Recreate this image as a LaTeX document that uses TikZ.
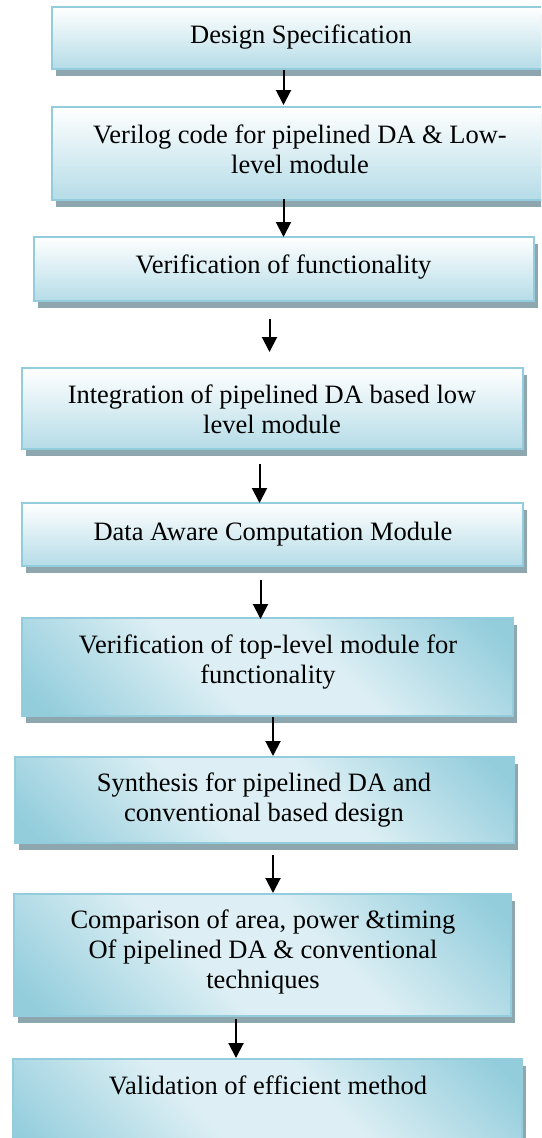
\documentclass[tikz,border=0pt]{standalone}
\usepackage{fontspec}
\setmainfont{Liberation Serif}
\usetikzlibrary{arrows.meta,shadows}

\definecolor{bordc}{HTML}{93CDDD}
\definecolor{shadc}{HTML}{8EA7AF}
\definecolor{fillb}{HTML}{B5DCE7}
\definecolor{diagdk}{HTML}{93CDDC}
\definecolor{diaglt}{HTML}{DDEFF4}

% reflected diagonal fill: dark corners, broad light band through the middle
\pgfdeclareverticalshading{diagfill}{100bp}{%
  color(0bp)=(diagdk); color(18bp)=(diagdk); color(42bp)=(diaglt);
  color(58bp)=(diaglt); color(82bp)=(diagdk); color(100bp)=(diagdk)}

\tikzset{
  box/.style={rectangle, draw=bordc, line width=2pt, inner sep=0pt,
    anchor=north west,
    general shadow={fill=shadc, shadow xshift=3.5pt, shadow yshift=-6.5pt}},
  plainbox/.style={box, top color=white, bottom color=fillb},
  diagbox/.style={box, shade, shading=diagfill, shading angle=135},
  % multi-line labels are placed by the baseline of their last line
  txt/.style={inner sep=0pt, align=center, anchor=base,
    font=\fontsize{26.5}{30}\selectfont},
  arr/.style={line width=2pt, -{Triangle[length=15pt,width=15pt]}},
}

\begin{document}
\begin{tikzpicture}[x=1pt, y=-1pt]
\useasboundingbox (0,0) rectangle (541,1138);
\clip (0,0) rectangle (541,1138);

% process steps
\node[plainbox, minimum width=500pt, minimum height=62pt] (b1) at (51,6) {};
\node[plainbox, minimum width=500pt, minimum height=93pt] (b2) at (51,106) {};
\node[plainbox, minimum width=500pt, minimum height=64pt] (b3) at (33,236) {};
\node[plainbox, minimum width=501pt, minimum height=81pt] (b4) at (21,367) {};
\node[plainbox, minimum width=501pt, minimum height=63pt] (b5) at (21,502) {};
\node[diagbox, minimum width=491pt, minimum height=98pt] (b6) at (21,617) {};
\node[diagbox, minimum width=499pt, minimum height=86pt] (b7) at (14,756) {};
\node[diagbox, minimum width=497pt, minimum height=122pt] (b8) at (13,893) {};
\node[diagbox, minimum width=509pt, minimum height=102pt] (b9) at (12,1058) {};

% step labels
\node[txt] (t1) at (301,43) {Design Specification};
\node[txt] (t2) at (300,173) {Verilog code for pipelined DA \& Low-\\level module};
\node[txt] (t3) at (283.5,273) {Verification of functionality};
\node[txt] (t4) at (272,433) {Integration of pipelined DA based low\\level module};
\node[txt] (t5) at (273,540) {Data Aware Computation Module};
\node[txt] (t6) at (268,683) {Verification of top-level module for\\functionality};
\node[txt] (t7) at (264,821) {Synthesis for pipelined DA and\\conventional based design};
\node[txt] (t8) at (263,988) {Comparison of area, power \&timing\\Of pipelined DA \& conventional\\techniques};
\node[txt] (t9) at (268,1094) {Validation of efficient method};

% flow arrows
\draw[arr, shorten >=1pt] (b1.south -| 283.5,0) -- (b2.north -| 283.5,0);
\draw[arr, shorten <=-2pt, shorten >=-1pt] (b2.south -| 283.5,0) -- (b3.north -| 283.5,0);
\draw[arr, shorten <=17pt, shorten >=15pt] (b3.south -| 269.5,0) -- (b4.north -| 269.5,0);
\draw[arr, shorten <=14pt, shorten >=-1pt] (b4.south -| 259.5,0) -- (b5.north -| 259.5,0);
\draw[arr, shorten <=13pt, shorten >=-2pt] (b5.south -| 260.5,0) -- (b6.north -| 260.5,0);
\draw[arr] (b6.south -| 273,0) -- (b7.north -| 273,0);
\draw[arr, shorten <=11pt] (b7.south -| 273,0) -- (b8.north -| 273,0);
\draw[arr, shorten <=2pt] (b8.south -| 236,0) -- (b9.north -| 236,0);
\end{tikzpicture}
\end{document}
